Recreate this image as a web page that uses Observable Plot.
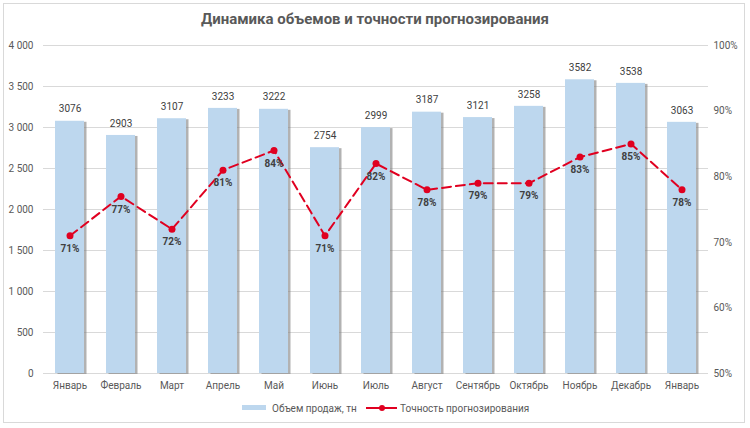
<!DOCTYPE html>
<html><head><meta charset="utf-8">
<script src="https://cdn.jsdelivr.net/npm/d3@7"></script>
<script src="https://cdn.jsdelivr.net/npm/@observablehq/plot@0.6"></script>
<style>
body{margin:0;background:#fff;font-family:Roboto,sans-serif;}
#wrap{position:relative;width:750px;height:428px;overflow:hidden;}
#frame{position:absolute;left:3px;top:3px;width:740px;height:418px;border:1px solid #d9d9d9;}
#title{position:absolute;left:0;top:10px;width:750px;text-align:center;font-size:15px;font-weight:700;color:#595959;}
#chart{position:absolute;left:0;top:36px;}
#legend{position:absolute;left:0;top:400px;width:750px;font-size:10px;color:#595959;}
.li{position:absolute;top:0;display:flex;align-items:center;height:16px;}
</style></head>
<body><div id="wrap"><div id="frame"></div>
<div id="title">Динамика объемов и точности прогнозирования</div>
<div id="chart"></div>
<div id="legend">
 <div class="li" style="left:242px"><svg width="30" height="16"><rect x="0" y="5" width="24" height="5" fill="#bdd7ee"/></svg><span>Объем продаж, тн</span></div>
 <div class="li" style="left:366px"><svg width="34" height="16"><line x1="0" y1="8" x2="31" y2="8" stroke="#e00020" stroke-width="2"/><circle cx="16" cy="8" r="3" fill="#e00020"/></svg><span>Точность прогнозирования</span></div>
</div>
</div>
<script>
const months = ["Январь","Февраль","Март","Апрель","Май","Июнь","Июль","Август","Сентябрь","Октябрь","Ноябрь","Декабрь","Январь"];
const volumes = [3076,2903,3107,3233,3222,2754,2999,3187,3121,3258,3582,3538,3063];
const accuracy = [0.71,0.77,0.72,0.81,0.84,0.71,0.82,0.78,0.79,0.79,0.83,0.85,0.78];
const leftTicks = [0,500,1000,1500,2000,2500,3000,3500,4000];
const rightTicks = [0.5,0.6,0.7,0.8,0.9,1.0];

const yMax = 4000;
const toY = p => (p - 0.5) / 0.5 * yMax;
const data = months.map((m,i)=>({i, m, v: volumes[i], p: accuracy[i], py: toY(accuracy[i])}));
const fmtThousands = d => d >= 1000 ? String(d).replace(/\B(?=(\d{3})+(?!\d))/g," ") : String(d);

const plot = Plot.plot({
  width: 750, height: 359,
  marginLeft: 43, marginRight: 42, marginTop: 9, marginBottom: 22,
  style: {fontFamily: "Roboto, sans-serif", fontSize: "10px", color: "#595959", background: "transparent"},
  x: {type: "band", domain: d3.range(months.length), paddingInner: 0.43, paddingOuter: 0.215, axis: null, label: null},
  y: {domain: [0, yMax], axis: null, label: null},
  marks: [
    Plot.ruleY(leftTicks, {stroke: "#d9d9d9", strokeWidth: 1}),
    Plot.barY(data, {x: "i", y: "v", fill: "#7f7f7f", fillOpacity: 0.6, dx: 2.5, dy: 1}),
    Plot.barY(data, {x: "i", y: "v", fill: "#bdd7ee"}),
    Plot.axisY(leftTicks, {anchor: "left", tickSize: 0, tickPadding: 10, tickFormat: fmtThousands, fill: "#595959", label: null}),
    Plot.axisY(rightTicks.map(toY), {anchor: "right", tickSize: 0, tickPadding: 5, tickFormat: d => Math.round(d / yMax * 50 + 50) + "%", fill: "#595959", textAnchor: "start", label: null}),
    Plot.axisX(d3.range(months.length), {tickSize: 0, tickPadding: 8, tickFormat: i => months[i], fill: "#595959", label: null}),
    Plot.text(data, {x: "i", y: "v", text: d => String(d.v), dy: -12, fill: "#404040", fontSize: 10}),
    Plot.line(data, {x: "i", y: "py", stroke: "#e00020", strokeWidth: 2, strokeDasharray: "9,5"}),
    Plot.dot(data, {x: "i", y: "py", r: 3.5, fill: "#e00020", stroke: "none"}),
    Plot.text(data, {x: "i", y: "py", text: d => Math.round(d.p*100) + "%", dy: 13, fill: "#404040", fontWeight: "bold", fontSize: 10})
  ]
});
document.getElementById("chart").appendChild(plot);
</script>
</body></html>
